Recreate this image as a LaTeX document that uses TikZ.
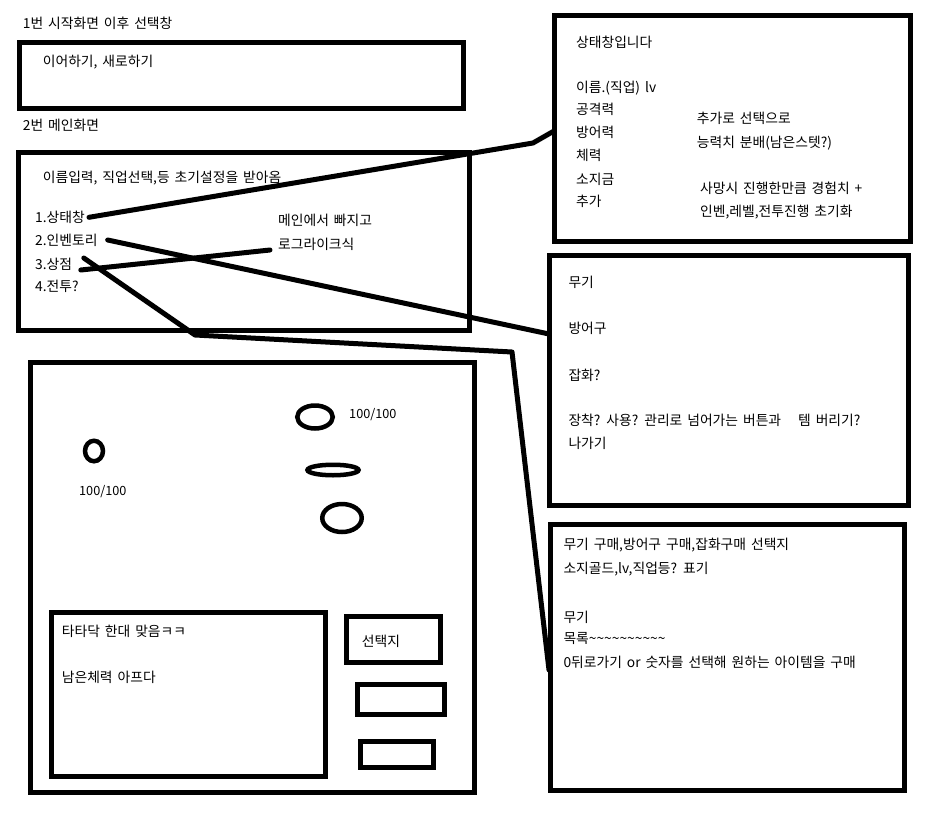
\documentclass[tikz,border=0pt]{standalone}
\usepackage{fontspec}
\setmainfont[WordSpace=1.6]{Noto Sans CJK KR}
\usetikzlibrary{shapes.geometric}
\tikzstyle{screen}=[draw,line width=5pt,inner sep=0pt,outer sep=0pt,anchor=north west]
\tikzstyle{ring}=[draw,ellipse,line width=4.5pt,inner sep=0pt,outer sep=0pt]
\tikzstyle{txt}=[anchor=west,inner sep=0pt,font=\fontsize{13.8pt}{16pt}\selectfont]
\tikzstyle{hp}=[anchor=west,inner sep=0pt,font=\fontsize{12.7pt}{15pt}\selectfont]
\tikzstyle{wire}=[draw,line width=5pt,line cap=round,line join=round]
\begin{document}
\begin{tikzpicture}[x=1pt,y=-1pt]
      \useasboundingbox (0,0) rectangle (936,816);

      \node[txt] (title1) at (22.7,23) {1번 시작화면 이후 선택창};
      \node[screen,minimum width=443.5pt,minimum height=66pt] (startbox) at (19.5,42.5) {};
      \node[txt] (cont) at (42.7,61.7) {이어하기, 새로하기};

      \node[txt] (title2) at (22.7,125) {2번 메인화면};
      \node[screen,minimum width=451pt,minimum height=178pt] (mainbox) at (18,152) {};
      \node[txt] (setup) at (42.7,178) {이름입력, 직업선택,등 초기설정을 받아옴};
      \node[txt] (m1) at (35,217.3) {1.상태창};
      \node[txt] (m2) at (35,240) {2.인벤토리};
      \node[txt] (m3) at (35,264) {3.상점};
      \node[txt] (m4) at (35,286.7) {4.전투?};
      \node[txt] (rogue1) at (278,220) {메인에서 빠지고};
      \node[txt] (rogue2) at (278,244) {로그라이크식};

      \node[screen,minimum width=356pt,minimum height=225pt] (statusbox) at (554,16) {};
      \node[txt] (st0) at (576,42) {상태창입니다};
      \node[txt] (st1) at (576,88) {이름.(직업) lv};
      \node[txt] (st2) at (576,109.5) {공격력};
      \node[txt] (st3) at (576,132.7) {방어력};
      \node[txt] (st4) at (576,155.5) {체력};
      \node[txt] (st5) at (576,179) {소지금};
      \node[txt] (st6) at (576,201.7) {추가};
      \node[txt] (st7) at (696.7,118.3) {추가로 선택으로};
      \node[txt] (st8) at (696.7,143.3) {능력치 분배(남은스텟?)};
      \node[txt] (st9) at (700,188.3) {사망시 진행한만큼 경험치 +};
      \node[txt] (st10) at (700,211.7) {인벤,레벨,전투진행 초기화};

      \node[screen,minimum width=359pt,minimum height=250pt] (invbox) at (549,255) {};
      \node[txt] (inv1) at (568.3,282) {무기};
      \node[txt] (inv2) at (568.3,328) {방어구};
      \node[txt] (inv3) at (568.3,375) {잡화?};
      \node[txt] (inv4) at (568.3,420) {장착? 사용? 관리로 넘어가는 버튼과\hspace{12pt} 템 버리기?};
      \node[txt] (inv5) at (568.3,443) {나가기};

      \node[screen,minimum width=354pt,minimum height=266pt] (shopbox) at (550,524) {};
      \node[txt] (sh1) at (563.3,545) {무기 구매,방어구 구매,잡화구매 선택지};
      \node[txt] (sh2) at (563.3,569) {소지골드,lv,직업등? 표기};
      \node[txt] (sh3) at (563.3,617) {무기};
      \node[txt] (sh4) at (563.3,638) {목록\textasciitilde\textasciitilde\textasciitilde\textasciitilde\textasciitilde\textasciitilde\textasciitilde\textasciitilde\textasciitilde\textasciitilde};
      \node[txt] (sh5) at (563.3,662) {0뒤로가기 or 숫자를 선택해 원하는 아이템을 구매};

      \node[screen,minimum width=444pt,minimum height=430pt] (battlebox) at (30,362) {};
      \node[ring,minimum width=18pt,minimum height=20.5pt] (hero) at (94,451) {};
      \node[hp] (herohp) at (79,492) {100/100};
      \node[ring,minimum width=35.5pt,minimum height=23pt] (foe1) at (315,417) {};
      \node[hp] (foehp) at (349,415) {100/100};
      \node[ring,minimum width=51pt,minimum height=10.5pt] (foe2) at (333,470) {};
      \node[ring,minimum width=39.5pt,minimum height=28pt] (foe3) at (342,518) {};
      \node[screen,minimum width=274pt,minimum height=164pt] (logbox) at (51,612) {};
      \node[txt] (log1) at (61.7,631.7) {타타닥 한대 맞음ㅋㅋ};
      \node[txt] (log2) at (61.7,677.3) {남은체력 아프다};
      \node[screen,minimum width=94pt,minimum height=46pt] (choicebox) at (346,616) {};
      \node[txt] (choice) at (361.7,641.7) {선택지};
      \node[screen,minimum width=87pt,minimum height=30pt] (btnb) at (357,684) {};
      \node[screen,minimum width=73pt,minimum height=26pt] (btnc) at (360,741) {};

      \coordinate (sb) at (533,143);
      \coordinate (invport) at (549,334);
      \coordinate (s1) at (195,335);
      \coordinate (s2) at (512,352);
      \coordinate (shopport) at (549,670);

      \path[wire] ([xshift=4pt]m1.east) -- (sb) -- ([yshift=-2.5pt]statusbox.west);
      \path[wire] ([xshift=10pt]m2.east) -- (invport);
      \path[wire] ([xshift=8.5pt,yshift=-6pt]m3.east) -- ([xshift=-8pt,yshift=-6pt]rogue2.west);
      \path[wire] ([xshift=11.5pt,yshift=6pt]m3.east) -- (s1) -- (s2) -- (shopport);

    \end{tikzpicture}
\end{document}
